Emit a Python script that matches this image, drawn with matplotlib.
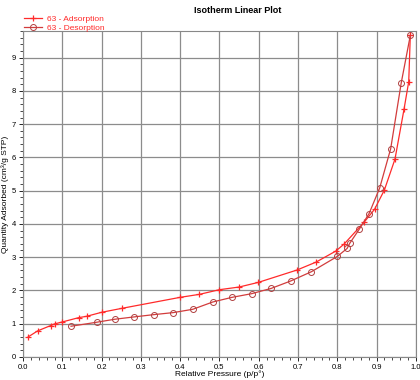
import matplotlib.pyplot as plt
from matplotlib.ticker import MultipleLocator

plt.rcParams["font.family"] = ["Liberation Sans", "DejaVu Sans"]

# adsorption branch (p/p0, cm3/g STP)
ads_p = [0.013, 0.037, 0.070, 0.080, 0.100, 0.142, 0.162, 0.200, 0.252, 0.400,
         0.449, 0.500, 0.550, 0.599, 0.697, 0.746, 0.796, 0.818, 0.869, 0.895,
         0.920, 0.947, 0.970, 0.982, 0.986]
ads_q = [0.60, 0.78, 0.94, 0.99, 1.05, 1.18, 1.22, 1.34, 1.46, 1.79,
         1.88, 2.02, 2.10, 2.24, 2.61, 2.85, 3.18, 3.40, 4.06, 4.44,
         5.02, 5.95, 7.45, 8.28, 9.67]

# desorption branch
des_p = [0.986, 0.963, 0.936, 0.908, 0.881, 0.856, 0.832, 0.825, 0.800, 0.734,
         0.681, 0.632, 0.582, 0.532, 0.483, 0.432, 0.382, 0.333, 0.282, 0.233,
         0.187, 0.122]
des_q = [9.67, 8.25, 6.26, 5.08, 4.31, 3.84, 3.42, 3.26, 3.02, 2.56,
         2.28, 2.06, 1.90, 1.79, 1.65, 1.43, 1.33, 1.27, 1.20, 1.13,
         1.04, 0.92]

fig = plt.figure(figsize=(4.2, 3.8), dpi=100)
ax = fig.add_axes([0.055, 0.061, 0.935, 0.857])

ax.plot(ads_p, ads_q, color="#ff2a2a", lw=0.9, marker="+", ms=5, mew=0.9,
        label="63 - Adsorption")
ax.plot(des_p, des_q, color="#d23c3c", lw=0.9, marker="o", ms=4.3, mew=0.7,
        mfc="none", mec="#b04040", label="63 - Desorption")

ax.set_xlim(0, 1.0)
ax.set_ylim(0, 9.8)
ax.xaxis.set_major_locator(MultipleLocator(0.1))
ax.xaxis.set_minor_locator(MultipleLocator(0.02))
ax.yaxis.set_major_locator(MultipleLocator(1))
ax.yaxis.set_minor_locator(MultipleLocator(0.2))
ax.xaxis.set_major_formatter(lambda v, pos: f"{v:.1f}")
ax.grid(True, which="major", color="#8c8c8c", lw=0.9)
ax.set_axisbelow(True)
ax.tick_params(which="major", direction="out", length=3, width=0.6, labelsize=5.5, pad=2)
ax.tick_params(which="minor", direction="out", length=2, width=0.5)
for s in ax.spines.values():
    s.set_color("#888888")
    s.set_linewidth(0.8)

ax.set_xlabel("Relative Pressure (p/p°)", fontsize=6, labelpad=0)
ax.set_ylabel("Quantity Adsorbed (cm³/g STP)", fontsize=6, labelpad=2)
fig.text(0.565, 0.985, "Isotherm Linear Plot", ha="center", va="top",
         fontsize=6.5, fontweight="bold")

leg = ax.legend(loc="lower left", bbox_to_anchor=(0.0, 0.995), frameon=False,
                fontsize=6, handlelength=2.2, handletextpad=0.6,
                labelspacing=0.1, borderpad=0.1, borderaxespad=0)
for t in leg.get_texts():
    t.set_color("#ff2a2a")

fig.savefig("out.png", dpi=100)
